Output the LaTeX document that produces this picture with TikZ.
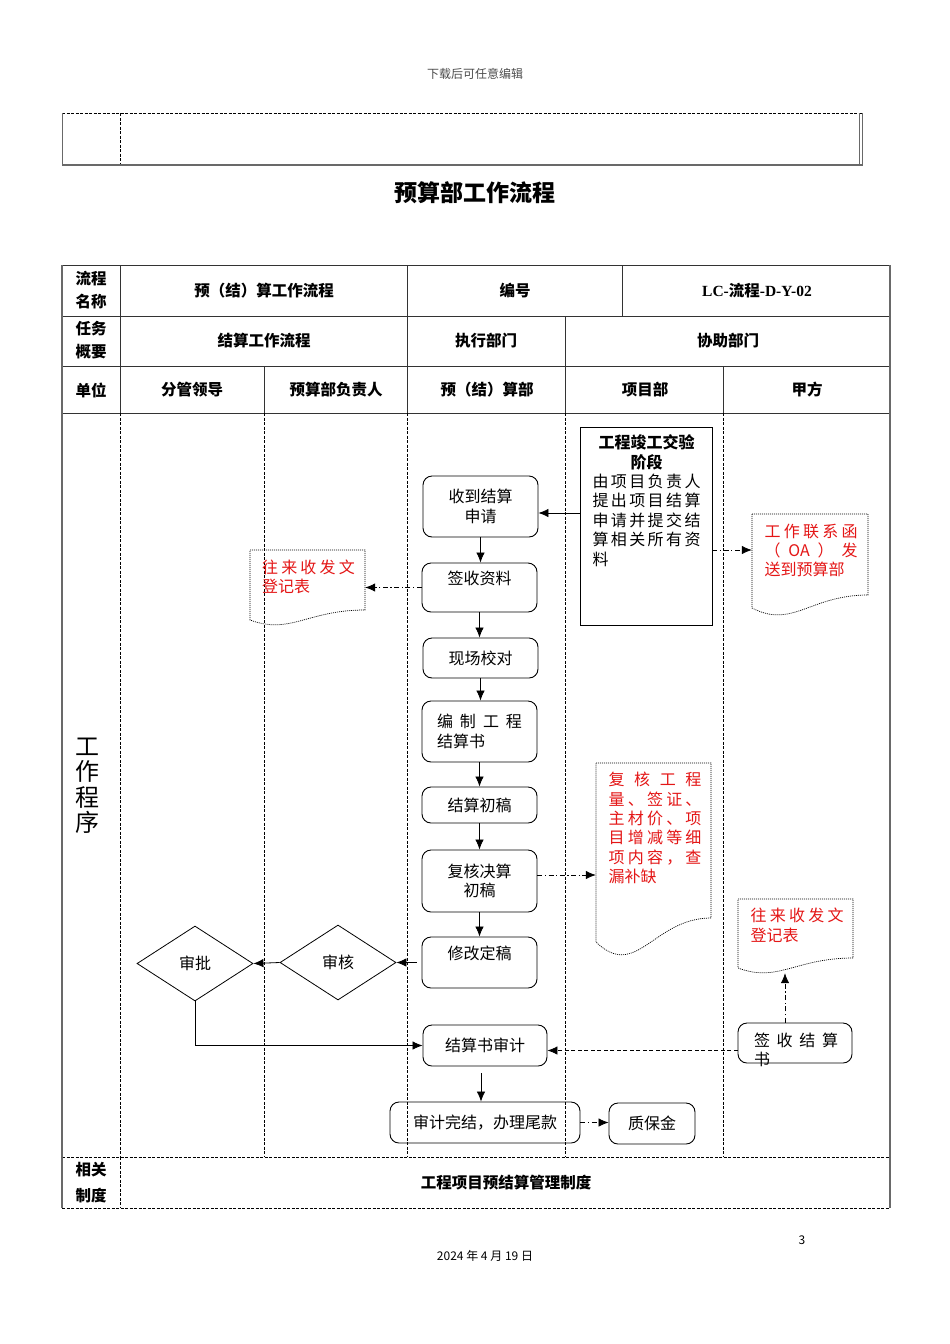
\documentclass[tikz,border=0pt]{standalone}
\usepackage{fontspec}
\setmainfont{Noto Sans CJK SC}
\newfontfamily\lserif{Liberation Serif}
\usetikzlibrary{shapes.geometric,arrows.meta}
\definecolor{redtxt}{RGB}{228,22,22}
\definecolor{bordgray}{RGB}{105,105,105}
\def\mygobble#1{}
\def\spreadA#1#2{#1\ifx\relax#2\expandafter\mygobble\else\hfill\expandafter\spreadA\fi#2}
\newcommand\jl[2]{\makebox[#1pt][s]{\spreadA#2\relax}}
\newcommand\nf{\fontsize{16}{19.4}\selectfont}
\newcommand\hf{\fontsize{15.5}{23}\selectfont\bfseries}
\newcommand\docsh[6]{\draw[docline] (#1,#2) -- (#3,#2) -- (#3,#6) .. controls ({#1+0.5*(#3-#1)},#6) and ({#1+0.35*(#3-#1)},{#4+3*(#5-#4)}) .. (#1,#4) -- cycle;}
\tikzset{
 proc/.style={draw, rounded corners=9pt, line width=0.9pt, inner sep=0pt, font=\nf, align=center},
 dia/.style={draw, diamond, line width=0.8pt, inner sep=0pt, font=\nf, minimum width=116pt, minimum height=75pt},
 txt/.style={inner sep=0pt, font=\nf, align=center},
 hdr/.style={inner sep=0pt, font=\hf, align=center},
 redt/.style={inner sep=0pt, font=\nf, align=center, text=redtxt},
 arr/.style={-{Latex[length=10pt,width=8.5pt]}, line width=0.8pt},
 arrdd/.style={arr, dash pattern=on 5pt off 2.5pt on 1.2pt off 2.5pt},
 arrdash/.style={arr, dash pattern=on 4pt off 2.5pt},
 docline/.style={line width=0.7pt, dash pattern=on 1pt off 1pt},
 lane/.style={line width=0.9pt, dash pattern=on 3pt off 1.5pt},
 grid/.style={line width=0.9pt, draw=black!80},
 docnode/.style={inner sep=0pt},
}
\begin{document}
\begin{tikzpicture}[x=1pt,y=-1pt]
\useasboundingbox[fill=white] (0,0) rectangle (950,1344);
% page header
\node[inner sep=0, font=\fontsize{12}{14}\selectfont, text=black!70] (hd) at (475,74) {下载后可任意编辑};
% top box
\draw[lane] (62,113) -- (862,113);
\draw[lane] (120,113) -- (120,166);
\draw[line width=0.9pt, draw=bordgray] (62,113) -- (62,166);
\draw[line width=0.7pt, draw=bordgray] (859.5,113) -- (859.5,166);
\draw[line width=0.7pt, draw=bordgray] (862.5,113) -- (862.5,166);
\draw[line width=2pt, draw=bordgray] (62,165) -- (863,165);
% title
\node[inner sep=0, font=\fontsize{23}{26}\selectfont\bfseries] (title) at (475,193) {预算部工作流程};
% main table
\draw[grid] (62,265) -- (890,265);
\draw[grid] (62,316) -- (890,316);
\draw[grid] (62,366) -- (890,366);
\draw[grid] (62,413) -- (890,413);
\draw[lane] (62,1157) -- (890,1157);
\draw[lane] (62,1208) -- (890,1208);
\draw[line width=2.2pt, draw=bordgray] (62,265) -- (62,1208);
\draw[line width=1.8pt, draw=bordgray] (890,265) -- (890,1208);
\foreach \xx in {120,407,622} \draw[grid] (\xx,265) -- (\xx,316);
\foreach \xx in {120,407,565} \draw[grid] (\xx,316) -- (\xx,366);
\foreach \xx in {120,264,407,565,723} \draw[grid] (\xx,366) -- (\xx,413);
\foreach \xx in {120,264,407,565,723} \draw[lane] (\xx,413) -- (\xx,1157);
\draw[lane] (120,1157) -- (120,1208);
% header texts
\node[hdr] (h11) at (91,290.5) {流程\\名称};
\node[hdr] (h12) at (264,291) {预（结）算工作流程};
\node[hdr] (h13) at (515,291) {编号};
\node[hdr] (h14) at (757,291) {{\lserif LC-}流程{\lserif -D-Y-02}};
\node[hdr] (h21) at (91,340.5) {任务\\概要};
\node[hdr] (h22) at (264,341) {结算工作流程};
\node[hdr] (h23) at (486,341) {执行部门};
\node[hdr] (h24) at (728,341) {协助部门};
\node[hdr] (h31) at (91,390) {单位};
\node[hdr] (h32) at (192,390) {分管领导};
\node[hdr] (h33) at (336,390) {预算部负责人};
\node[hdr] (h34) at (487,390) {预（结）算部};
\node[hdr] (h35) at (645,390) {项目部};
\node[hdr] (h36) at (807,390) {甲方};
\node[inner sep=0, font=\fontsize{24}{25.5}\selectfont, align=center] (wp) at (87,786) {工\\作\\程\\序};
\node[hdr, font=\fontsize{15.5}{26}\selectfont\bfseries] (h51) at (91,1183) {相关\\制度};
\node[hdr] (h52) at (506,1183) {工程项目预结算管理制度};
% project box
\node[draw, line width=0.9pt, minimum width=132pt, minimum height=198pt, inner sep=0pt] (proj) at (646,526) {};
\node[txt] (projt) at (646.5,500.5) {\bfseries 工程竣工交验\\\bfseries 阶段\\\jl{108}{由项目负责人}\\\jl{108}{提出项目结算}\\\jl{108}{申请并提交结}\\\jl{108}{算相关所有资}\\\makebox[108pt][l]{料}};
% process boxes
\node[proc, minimum width=115pt, minimum height=61pt] (recv) at (480.5,506.5) {收到结算\\申请};
\node[proc, minimum width=115pt, minimum height=49pt, text height=12pt, text depth=18.5pt] (sign) at (479.5,587.5) {签收资料};
\node[proc, minimum width=115pt, minimum height=40pt] (check) at (480.5,658) {现场校对};
\node[proc, minimum width=115pt, minimum height=61pt] (compile) at (479.5,731.5) {\jl{85}{编制工程}\\\makebox[85pt][l]{结算书}};
\node[proc, minimum width=115pt, minimum height=36pt] (draft) at (479.5,805) {结算初稿};
\node[proc, minimum width=115pt, minimum height=62pt] (review) at (479.5,881) {复核决算\\初稿};
\node[proc, minimum width=115pt, minimum height=51pt, text height=12pt, text depth=18.5pt] (final) at (479.5,962.5) {修改定稿};
\node[proc, minimum width=124pt, minimum height=41pt] (audit) at (485,1045.5) {结算书审计};
\node[proc, minimum width=190pt, minimum height=41pt] (done) at (485,1122.5) {审计完结，办理尾款};
\node[proc, minimum width=86pt, minimum height=41pt] (qa) at (652,1123.5) {质保金};
\node[proc, minimum width=114pt, minimum height=40pt] (signbook) at (795,1043) {};
\node[txt] (signbookt) at (796,1050) {\jl{84}{签收结算}\\\makebox[84pt][l]{书}};
\node[dia] (sh) at (338,962.5) {审核};
\node[dia] (sp) at (195,963.5) {审批};
% documents
\node[docnode, minimum width=115pt, minimum height=75pt] (docL) at (307.5,587.5) {};
\docsh{250}{550}{365}{620}{625}{610}
\node[redt] (docLt) at (308.5,577) {\jl{93}{往来收发文}\\\makebox[93pt][l]{登记表}};
\node[docnode, minimum width=116pt, minimum height=101pt] (docOA) at (810,564.5) {};
\docsh{752}{514}{868}{608}{615}{595}
\node[redt] (docOAt) at (811,550.5) {\jl{93}{工作联系函}\\\makebox[93pt][s]{（\hfill OA\hfill）\hfill 发}\\\makebox[93pt][l]{送到预算部}};
\node[docnode, minimum width=115pt, minimum height=192pt] (docRv) at (653.5,859) {};
\docsh{596}{763}{711}{942}{955}{918}
\node[redt] (docRvt) at (655,828) {\jl{93}{复核工程}\\\jl{93}{量、签证、}\\\jl{93}{主材价、项}\\\jl{93}{目增减等细}\\\jl{93}{项内容，查}\\\makebox[93pt][l]{漏补缺}};
\node[docnode, minimum width=115pt, minimum height=74pt] (docR2) at (795.5,936) {};
\docsh{738}{899}{853}{968}{973}{958}
\node[redt] (docR2t) at (797,925.5) {\jl{93}{往来收发文}\\\makebox[93pt][l]{登记表}};
% connectors
\draw[arr] ([yshift=-6.5pt]recv.east -| proj.west) -- ([yshift=-6.5pt]recv.east);
\draw[arr] (recv.south) -- (recv.south |- sign.north);
\draw[arr] (sign.south) -- (sign.south |- check.north);
\draw[arr] (check.south) -- (check.south |- compile.north);
\draw[arr] (compile.south) -- (compile.south |- draft.north);
\draw[arr] (draft.south) -- (draft.south |- review.north);
\draw[arr] (review.south) -- (review.south |- final.north);
\draw[arrdd] (sign.west) -- (sign.west -| docL.east);
\draw[arrdd] ([yshift=-24pt]proj.east) -- ([yshift=-24pt]proj.east -| docOA.west);
\draw[arrdd] ([yshift=6pt]review.east) -- ([yshift=6pt]review.east -| docRv.west);
\draw[arr] ([xshift=-5pt]final.west) -- (sh.east);
\draw[arr] (sh.west) -- (sp.east);
\draw[arr] (sp.south) |- (audit.west);
\draw[arrdash] ([yshift=-5pt]audit.east -| signbook.west) -- ([yshift=-5pt]audit.east);
\draw[arrdd] ([xshift=-10pt]signbook.north) -- ([xshift=-10pt]signbook.north |- docR2.south);
\draw[arr] ([xshift=-4pt,yshift=-7pt]audit.south) -- ([xshift=-4pt]audit.south |- done.north);
\draw[arrdd] (done.east) -- (done.east -| qa.west);
% footer
\node[inner sep=0, font=\fontsize{12}{14}\selectfont] (pg) at (802,1240) {3};
\node[inner sep=0, font=\fontsize{12}{14}\selectfont] (date) at (485,1256) {2024 年 4 月 19 日};
\end{tikzpicture}
\end{document}
